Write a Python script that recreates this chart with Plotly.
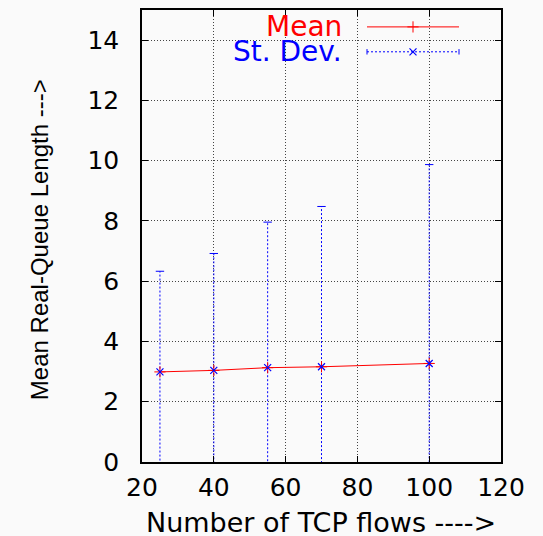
import plotly.graph_objects as go

# ---- data ----
flows = [25, 40, 55, 70, 100]
mean_q = [2.99, 3.04, 3.13, 3.16, 3.27]
std_q = [3.34, 3.88, 4.83, 5.32, 6.60]
x_ticks = [20, 40, 60, 80, 100, 120]
y_ticks = [0, 2, 4, 6, 8, 10, 12, 14]
series_names = ["Mean", "St. Dev."]

RED = "#ff0000"
BLUE = "#0000ff"
BG = "#fafafa"
TICKFONT = "DejaVu Sans"

upper = [m + s for m, s in zip(mean_q, std_q)]
lower = [m - s for m, s in zip(mean_q, std_q)]

# vertical error segments (dotted), built from the data arrays
ex, ey = [], []
for x, lo, hi in zip(flows, lower, upper):
    ex += [x, x, None]
    ey += [lo, hi, None]

fig = go.Figure()

# legend box covering the grid (paper coords, layer between grid and traces)
fig.add_shape(type="rect", xref="paper", yref="paper", x0=0.092, x1=0.939,
              y0=0.879, y1=1.0, fillcolor=BG, line=dict(width=0), layer="between")

fig.add_trace(go.Scatter(x=ex, y=ey, mode="lines",
                         line=dict(color=BLUE, width=1, dash="2px,2px"),
                         hoverinfo="skip", showlegend=False))
fig.add_trace(go.Scatter(x=flows, y=upper, mode="markers",
                         marker=dict(symbol="line-ew", size=6,
                                     line=dict(color=BLUE, width=1)),
                         showlegend=False))
fig.add_trace(go.Scatter(x=flows, y=mean_q, mode="lines+markers", name=series_names[0],
                         line=dict(color=RED, width=1),
                         marker=dict(symbol="cross-thin", size=8,
                                     line=dict(color=RED, width=1)),
                         showlegend=False))
fig.add_trace(go.Scatter(x=flows, y=mean_q, mode="markers", name=series_names[1],
                         marker=dict(symbol="x-thin", size=7,
                                     line=dict(color=BLUE, width=1.2)),
                         showlegend=False))

# ---- hand-made gnuplot-style legend (sample on the right of the text) ----
leg_y = [0.9626, 0.9075]
sx0, sx1, smid = (367 - 142) / 359, (459 - 142) / 359, (413 - 142) / 359
fig.add_shape(type="line", xref="paper", yref="paper", x0=sx0, x1=sx1,
              y0=leg_y[0], y1=leg_y[0], line=dict(color=RED, width=1))
fig.add_shape(type="line", xref="paper", yref="paper", x0=sx0, x1=sx1,
              y0=leg_y[1], y1=leg_y[1], line=dict(color=BLUE, width=1, dash="2px,2px"))
for xx in (sx0, sx1):
    fig.add_shape(type="line", xref="paper", yref="paper", x0=xx, x1=xx,
                  y0=leg_y[1] - 0.006, y1=leg_y[1] + 0.006,
                  line=dict(color=BLUE, width=1))
fig.add_trace(go.Scatter(x=[smid], y=[leg_y[0]], xaxis="x2", yaxis="y2", mode="markers",
                         marker=dict(symbol="cross-thin", size=8, line=dict(color=RED, width=1)),
                         showlegend=False, hoverinfo="skip"))
fig.add_trace(go.Scatter(x=[smid], y=[leg_y[1]], xaxis="x2", yaxis="y2", mode="markers",
                         marker=dict(symbol="x-thin", size=7, line=dict(color=BLUE, width=1.2)),
                         showlegend=False, hoverinfo="skip"))

fig.add_annotation(xref="paper", yref="paper", x=0.56, y=leg_y[0], text=series_names[0],
                   showarrow=False, xanchor="right", yanchor="middle", borderpad=0,
                   font=dict(family=TICKFONT, size=28, color=RED))
fig.add_annotation(xref="paper", yref="paper", x=0.56, y=leg_y[1], text=series_names[1],
                   showarrow=False, xanchor="right", yanchor="middle", borderpad=0,
                   font=dict(family=TICKFONT, size=28, color=BLUE))

# axis titles
fig.add_annotation(xref="paper", yref="paper", x=0.4986, y=-0.134,
                   text="Number of TCP flows ---->", showarrow=False,
                   xanchor="center", yanchor="middle", borderpad=0,
                   font=dict(family=TICKFONT, size=27, color="black"))
fig.add_annotation(xref="paper", yref="paper", x=-0.287, y=0.493,
                   text="Mean Real-Queue Length --->", showarrow=False, textangle=-90,
                   xanchor="center", yanchor="middle",
                   font=dict(family="Liberation Sans", size=24, color="black"))

axis_common = dict(showline=True, linecolor="black", linewidth=1.5, mirror="allticks",
                   ticks="inside", ticklen=6, tickwidth=1.2, tickcolor="black",
                   showgrid=True, gridcolor="#444444", gridwidth=1, griddash="1px,2px",
                   zeroline=False, tickfont=dict(family=TICKFONT, size=25, color="black"))

fig.update_layout(
    width=543, height=536,
    margin=dict(l=142, r=42, t=8, b=74),
    paper_bgcolor=BG, plot_bgcolor=BG,
    showlegend=False,
    xaxis=dict(range=[20, 120], tickvals=x_ticks, ticklabelstandoff=2, **axis_common),
    yaxis=dict(range=[0, 15], tickvals=y_ticks, ticklabelstandoff=16, **axis_common),
    xaxis2=dict(range=[0, 1], overlaying="x", visible=False),
    yaxis2=dict(range=[0, 1], overlaying="y", visible=False),
)

fig.write_html("out.html", config={"displayModeBar": False},
               post_script="document.body.style.margin='0px';"
                           "document.body.style.background='" + BG + "';")
